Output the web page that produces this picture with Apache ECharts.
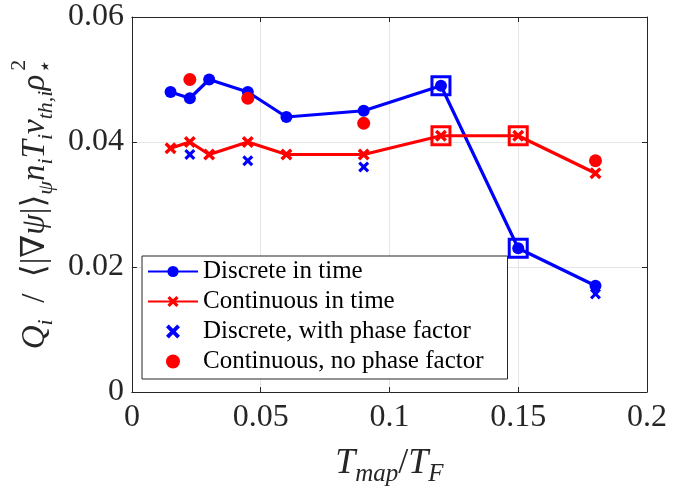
<!DOCTYPE html>
<html>
<head>
<meta charset="utf-8">
<script src="https://cdn.jsdelivr.net/npm/echarts@6/dist/echarts.min.js"></script>
<style>html,body{margin:0;padding:0;background:#fff}#c{width:674px;height:492px}</style>
</head>
<body>
<div id="c"></div>
<script>
// ---- data ----
const tmap = [0.015, 0.0225, 0.03, 0.045, 0.06, 0.09, 0.12, 0.15, 0.18];
const discreteTime = [0.048, 0.047, 0.050, 0.048, 0.044, 0.045, 0.049, 0.023, 0.017];
const continuousTime = [0.039, 0.040, 0.038, 0.040, 0.038, 0.038, 0.041, 0.041, 0.035];
const phaseX = [0.0225, 0.045, 0.09, 0.18];
const discretePhase = [0.038, 0.037, 0.036, 0.0157];
const noPhaseX = [0.0225, 0.045, 0.09, 0.18];
const continuousNoPhase = [0.050, 0.047, 0.043, 0.037];
const highlightIdx = [6, 7];
const xTicks = [0, 0.05, 0.1, 0.15, 0.2];
const yTicks = [0, 0.02, 0.04, 0.06];
const seriesNames = ['Discrete in time', 'Continuous in time', 'Discrete, with phase factor', 'Continuous, no phase factor'];

const pair = (xs, ys) => xs.map((x, i) => [x, ys[i]]);
const BLUE = '#0000ff', RED = '#ff0000', AX = '#262626';
const SERIF = "'Liberation Serif','DejaVu Serif',serif";
const XSYM = 'path://M2,0L5,3L8,0L10,2L7,5L10,8L8,10L5,7L2,10L0,8L3,5L0,2Z';

const chart = echarts.init(document.getElementById('c'));
const axisCommon = {
  type: 'value',
  axisLine: {show: true, onZero: false, lineStyle: {color: AX, width: 1}},
  axisTick: {show: true, inside: true, length: 5, lineStyle: {color: AX}},
  splitLine: {show: false},
  axisLabel: {show: false}
};
chart.setOption({
  animation: false,
  backgroundColor: '#fff',
  grid: {left: 129, top: 17, width: 518, height: 375, containLabel: false},
  xAxis: [{
    type: 'value', min: xTicks[0], max: xTicks[xTicks.length - 1], interval: 0.05,
    axisLine: {show: true, onZero: false, lineStyle: {color: AX, width: 1}},
    axisTick: {show: true, inside: true, length: 5, lineStyle: {color: AX}},
    splitLine: {show: true, lineStyle: {color: '#e5e5e5', width: 1}},
    axisLabel: {color: AX, fontFamily: SERIF, fontSize: 32, margin: 10},
    name: '{i|T}{s|map}{n|/}{i|T}{s|F}',
    nameLocation: 'middle', nameGap: 50,
    nameTextStyle: {
      rich: {
        i: {fontFamily: SERIF, fontStyle: 'italic', fontSize: 36, color: AX, lineHeight: 40, verticalAlign: 'bottom'},
        n: {fontFamily: SERIF, fontSize: 36, color: AX, lineHeight: 40, verticalAlign: 'bottom'},
        s: {fontFamily: SERIF, fontStyle: 'italic', fontSize: 25, color: AX, lineHeight: 24, verticalAlign: 'bottom', padding: [0, 0, -5, 0]}
      }
    }
  }, Object.assign({}, axisCommon, {position: 'top', min: 0, max: 0.2, interval: 0.05})],
  yAxis: [{
    type: 'value', min: yTicks[0], max: yTicks[yTicks.length - 1], interval: 0.02,
    axisLine: {show: true, onZero: false, lineStyle: {color: AX, width: 1}},
    axisTick: {show: true, inside: true, length: 5, lineStyle: {color: AX}},
    splitLine: {show: true, lineStyle: {color: '#e5e5e5', width: 1}},
    axisLabel: {color: AX, fontFamily: SERIF, fontSize: 32, margin: 8},
    name: '{i|Q}{s|i}{n|  /  ⟨|∇}{i|ψ}{n||⟩}{s|ψ}{i|n}{s|i}{i|T}{s|i}{i|v}{s|th,i}{i|ρ}{s|⋆}{sup|2}',
    nameLocation: 'middle', nameGap: 62, nameRotate: 90,
    nameTextStyle: {
      rich: {
        i: {fontFamily: SERIF, fontStyle: 'italic', fontSize: 33, color: AX, lineHeight: 40, verticalAlign: 'bottom'},
        n: {fontFamily: SERIF, fontSize: 33, color: AX, lineHeight: 40, verticalAlign: 'bottom'},
        s: {fontFamily: SERIF, fontStyle: 'italic', fontSize: 22, color: AX, lineHeight: 22, verticalAlign: 'bottom', padding: [0, 0, -5, 0]},
        sup: {fontFamily: SERIF, fontSize: 22, color: AX, lineHeight: 22, verticalAlign: 'top', padding: [-4, 0, 0, -10]}
      }
    }
  }, Object.assign({}, axisCommon, {position: 'right', min: 0, max: 0.06, interval: 0.02})],
  legend: {
    data: seriesNames,
    orient: 'vertical', left: 142, top: 256,
    itemWidth: 50, itemHeight: 14, itemGap: 5,
    padding: [3, 24, 5, 5],
    backgroundColor: '#fff', borderColor: AX, borderWidth: 1, borderRadius: 0,
    textStyle: {fontFamily: SERIF, fontSize: 25, color: '#000', lineHeight: 25}
  },
  series: [
    {
      name: seriesNames[0], type: 'line', data: pair(tmap, discreteTime),
      lineStyle: {color: BLUE, width: 3.2}, itemStyle: {color: BLUE, opacity: 1},
      symbol: 'circle', symbolSize: 12, z: 3
    },
    {
      name: seriesNames[1], type: 'line', data: pair(tmap, continuousTime),
      lineStyle: {color: RED, width: 3.2}, itemStyle: {color: RED, opacity: 1},
      symbol: XSYM, symbolSize: 12, z: 3
    },
    {
      name: seriesNames[2], type: 'scatter', data: pair(phaseX, discretePhase),
      itemStyle: {color: BLUE, opacity: 1}, symbol: XSYM, symbolSize: 11, z: 4
    },
    {
      name: seriesNames[3], type: 'scatter', data: pair(noPhaseX, continuousNoPhase),
      itemStyle: {color: RED, opacity: 1}, symbol: 'circle', symbolSize: 13, z: 4
    },
    {
      name: 'hlBlue', type: 'scatter', data: highlightIdx.map(i => [tmap[i], discreteTime[i]]),
      symbol: 'rect', symbolSize: 18,
      itemStyle: {color: 'rgba(0,0,0,0)', borderColor: BLUE, borderWidth: 3, opacity: 1}, z: 5
    },
    {
      name: 'hlRed', type: 'scatter', data: highlightIdx.map(i => [tmap[i], continuousTime[i]]),
      symbol: 'rect', symbolSize: 18,
      itemStyle: {color: 'rgba(0,0,0,0)', borderColor: RED, borderWidth: 3, opacity: 1}, z: 5
    }
  ]
});
</script>
</body>
</html>
